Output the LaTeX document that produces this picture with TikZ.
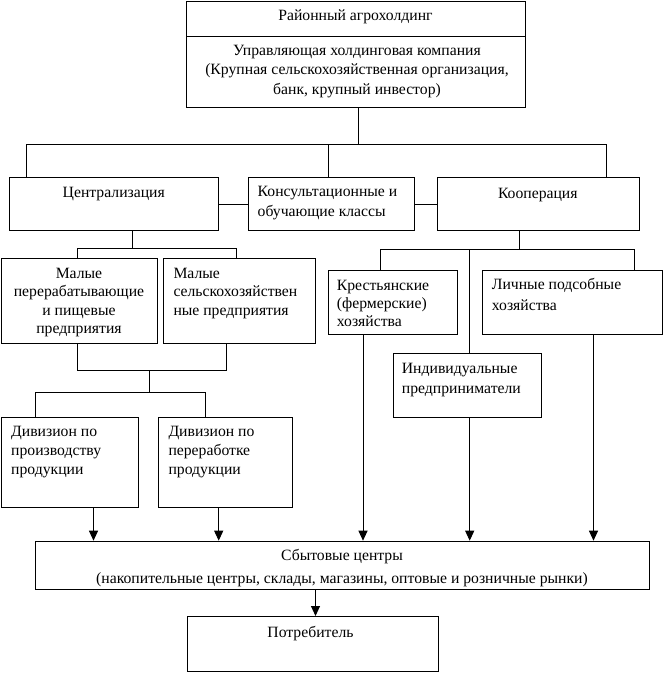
\documentclass[tikz,border=0pt]{standalone}
\usepackage{fontspec}
\setmainfont{Liberation Serif}
\usetikzlibrary{arrows.meta}
\newcommand\fr{\rule{0pt}{12pt}}
\tikzset{
  box/.style={draw, line width=1pt, inner sep=0pt, anchor=north west},
  txt/.style={inner sep=0pt, font=\fontsize{15.7}{19.5}\selectfont},
  txtc/.style={txt, anchor=north, align=center},
  txtl/.style={txt, anchor=north west, align=left},
  ln/.style={line width=1pt},
  arr/.style={line width=1pt, -{Triangle[width=9pt,length=10pt]}}
}
\begin{document}
\begin{tikzpicture}[x=1pt,y=-1pt]
\useasboundingbox (0,0) rectangle (665,673);
% boxes
\node[box, minimum width=339pt, minimum height=34.5pt] (rayon) at (186,1) {};
\node[box, minimum width=339pt, minimum height=71.5pt] (upr) at (186,35.5) {};
\node[box, minimum width=209pt, minimum height=53pt] (centr) at (9.3,177.3) {};
\node[box, minimum width=166pt, minimum height=53pt] (konsult) at (248,177.3) {};
\node[box, minimum width=202.3pt, minimum height=53pt] (koop) at (436.7,177.3) {};
\node[box, minimum width=156.6pt, minimum height=85pt] (malye1) at (0.7,258) {};
\node[box, minimum width=151.4pt, minimum height=85pt] (malye2) at (163.3,258) {};
\node[box, minimum width=129.6pt, minimum height=64pt] (kr) at (327.7,270.3) {};
\node[box, minimum width=180.6pt, minimum height=64pt] (lich) at (481.7,270.3) {};
\node[box, minimum width=148.6pt, minimum height=64pt] (ind) at (392.7,353.3) {};
\node[box, minimum width=137.6pt, minimum height=90.3pt] (div1) at (0.7,416.7) {};
\node[box, minimum width=133.4pt, minimum height=90.3pt] (div2) at (158.3,416.7) {};
\node[box, minimum width=613.7pt, minimum height=48.6pt] (sbyt) at (35.3,540.7) {};
\node[box, minimum width=251.5pt, minimum height=54.7pt] (potr) at (186.5,616) {};
% texts
\node[txtc] (t-rayon) at (355.5,8) {\fr Районный агрохолдинг};
\node[txtc] (t-upr) at (357,43) {\fr Управляющая холдинговая компания\\(Крупная сельскохозяйственная организация,\\банк, крупный инвестор)};
\node[txtc] (t-centr) at (113.8,185.3) {\fr Централизация};
\node[txtl, font=\fontsize{15.7}{20}\selectfont] (t-konsult) at (257.5,184.7) {\fr Консультационные и\\обучающие классы};
\node[txtc] (t-koop) at (537.8,186.3) {\fr Кооперация};
\node[txtc, font=\fontsize{15.7}{18.3}\selectfont] (t-malye1) at (79,266.3) {\fr Малые\\перерабатывающие\\и пищевые\\предприятия};
\node[txtl, font=\fontsize{15.7}{18.3}\selectfont] (t-malye2) at (173.3,266.3) {\fr Малые\\сельскохозяйствен\\ные предприятия};
\node[txtl, font=\fontsize{15.7}{18}\selectfont] (t-kr) at (336.7,278) {\fr Крестьянские\\(фермерские)\\хозяйства};
\node[txtl, font=\fontsize{15.7}{20.5}\selectfont] (t-lich) at (491.7,277.3) {\fr Личные подсобные\\хозяйства};
\node[txtl] (t-ind) at (401.7,361.3) {\fr Индивидуальные\\предприниматели};
\node[txtl, font=\fontsize{15.7}{19}\selectfont] (t-div1) at (11,424) {\fr Дивизион по\\производству\\продукции};
\node[txtl, font=\fontsize{15.7}{19}\selectfont] (t-div2) at (168.3,424) {\fr Дивизион по\\переработке\\продукции};
\node[txtc, font=\fontsize{15.7}{23}\selectfont] (t-sbyt) at (342,548) {\fr Сбытовые центры\\(накопительные центры, склады, магазины, оптовые и розничные рынки)};
\node[txtc] (t-potr) at (310.5,625.3) {\fr Потребитель};
% junction coordinates
\coordinate (j1) at (358.5,144.7);
\coordinate (j1L) at (26.7,144.7);
\coordinate (j1K) at (328.5,144.7);
\coordinate (j1R) at (606,144.7);
\coordinate (j2) at (132.7,248.7);
\coordinate (j2L) at (77.7,248.7);
\coordinate (j2R) at (236,248.7);
\coordinate (j3L) at (77.7,370.7);
\coordinate (j3R) at (226.3,370.7);
\coordinate (j3) at (149.3,370.7);
\coordinate (j4) at (149.3,392);
\coordinate (j4L) at (35.3,392);
\coordinate (j4R) at (205.3,392);
\coordinate (j5) at (519.3,249.3);
\coordinate (j5L) at (380.7,249.3);
\coordinate (j5M) at (469.7,249.3);
\coordinate (j5R) at (634,249.3);
\coordinate (a1) at (93.5,0);
\coordinate (a2) at (218.7,0);
\coordinate (a3) at (363,0);
\coordinate (a4) at (469.7,0);
\coordinate (a5) at (593.5,0);
\coordinate (a6) at (315.5,0);
% connectors
\draw[ln] (upr.south -| j1) -- (j1);
\draw[ln] (centr.north -| j1L) -- (j1L) -- (j1R) -- (koop.north -| j1R);
\draw[ln] (j1K) -- (konsult.north -| j1K);
\draw[ln] (centr.east) -- (konsult.west);
\draw[ln] (konsult.east) -- (koop.west);
\draw[ln] (centr.south -| j2) -- (j2);
\draw[ln] (malye1.north -| j2L) -- (j2L) -- (j2R) -- (malye2.north -| j2R);
\draw[ln] (malye1.south -| j3L) -- (j3L) -- (j3R) -- (malye2.south -| j3R);
\draw[ln] (j3) -- (j4);
\draw[ln] (div1.north -| j4L) -- (j4L) -- (j4R) -- (div2.north -| j4R);
\draw[ln] (koop.south -| j5) -- (j5);
\draw[ln] (kr.north -| j5L) -- (j5L) -- (j5R) -- (lich.north -| j5R);
\draw[ln] (j5M) -- (ind.north -| j5M);
\draw[arr] (div1.south -| a1) -- (sbyt.north -| a1);
\draw[arr] (div2.south -| a2) -- (sbyt.north -| a2);
\draw[arr] (kr.south -| a3) -- (sbyt.north -| a3);
\draw[arr] (ind.south -| a4) -- (sbyt.north -| a4);
\draw[arr] (lich.south -| a5) -- (sbyt.north -| a5);
\draw[arr] (sbyt.south -| a6) -- (potr.north -| a6);
\end{tikzpicture}
\end{document}
